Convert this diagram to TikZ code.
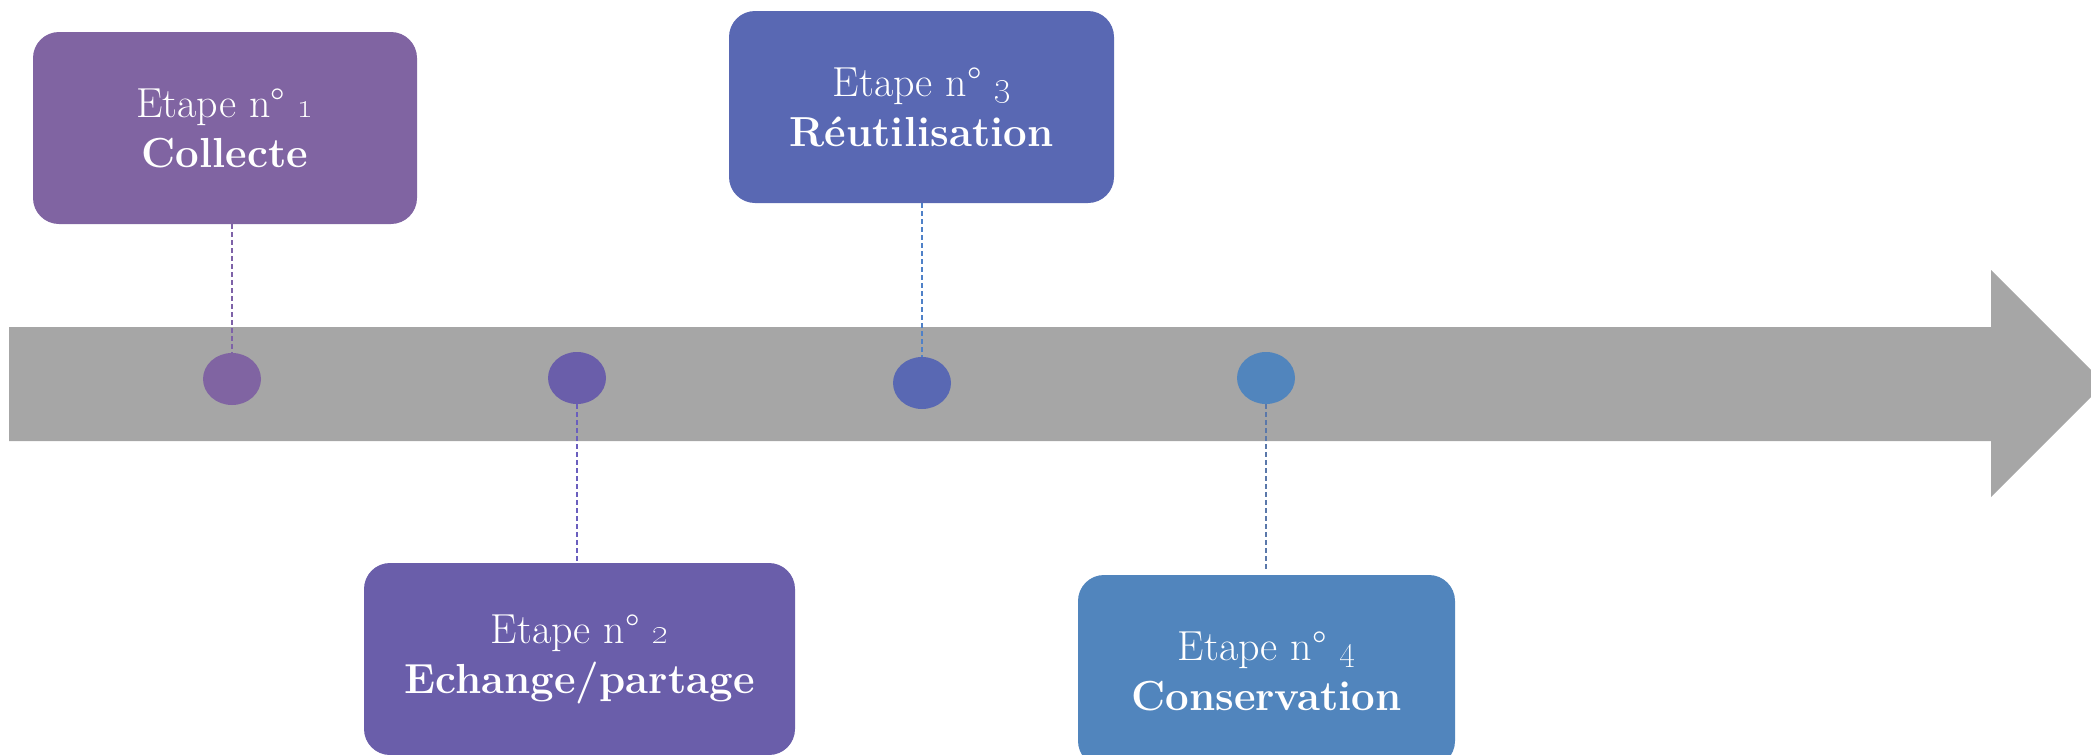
\documentclass[tikz,border=0pt]{standalone}
\usetikzlibrary{shapes.geometric}
\definecolor{cA}{RGB}{128,100,162}
\definecolor{cB}{RGB}{106,94,170}
\definecolor{cC}{RGB}{89,104,179}
\definecolor{cD}{RGB}{81,133,189}
\definecolor{lA}{RGB}{126,98,168}
\definecolor{lB}{RGB}{106,94,190}
\definecolor{lC}{RGB}{79,129,200}
\definecolor{lD}{RGB}{90,120,170}
\definecolor{arrowgray}{RGB}{166,166,166}
\newcommand{\etn}[1]{\oldstylenums{#1}}
\tikzset{
  stepbox/.style={rounded corners=26pt, inner sep=0pt, minimum height=192pt,
    text=white, align=center, font=\fontsize{42}{50}\selectfont},
  dotnode/.style={ellipse, inner sep=0pt, minimum width=58pt, minimum height=52pt},
  linkline/.style={dash pattern=on 5pt off 3pt, line width=1.5pt}
}
\begin{document}
\begin{tikzpicture}[x=1pt,y=-1pt]
\useasboundingbox (0,0) rectangle (2091,755);
\clip (0,0) rectangle (2091,755);
% timeline arrow
\fill[arrowgray] (9,327) -- (1991,327) -- (1991,270) -- (2104.5,383.5) -- (1991,497) -- (1991,441) -- (9,441) -- cycle;
% boxes
\node[stepbox, fill=cA, minimum width=384pt] (b1) at (225,128) {Etape n° \etn{1}\\\textbf{Collecte}};
\node[stepbox, fill=cB, minimum width=431pt] (b2) at (579.5,659) {Etape n° \etn{2}\\\textbf{Echange/partage}};
\node[stepbox, fill=cC, minimum width=385pt] (b3) at (921.5,107) {Etape n° \etn{3}\\\textbf{Réutilisation}};
\node[stepbox, fill=cD, minimum width=377pt] (b4) at (1266.5,671) {Etape n° \etn{4}\\\textbf{Conservation}};
% dots
\node[dotnode, fill=cA] (d1) at (232,379) {};
\node[dotnode, fill=cB] (d2) at (577,378) {};
\node[dotnode, fill=cC] (d3) at (922,383) {};
\node[dotnode, fill=cD] (d4) at (1266,378) {};
% connectors
\draw[linkline, lA] (d1 |- b1.south) -- (d1.north);
\draw[linkline, lB] (d2.south) -- (d2 |- b2.north);
\draw[linkline, lC] (d3 |- b3.south) -- (d3.north);
\coordinate (e4) at (1266,572);
\draw[linkline, lD] (d4.south) -- (e4);
\end{tikzpicture}
\end{document}
